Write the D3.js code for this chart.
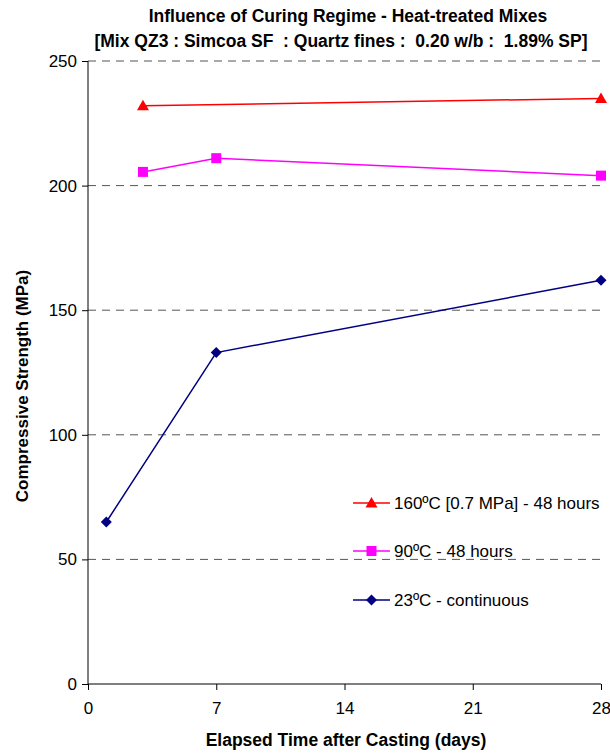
<!DOCTYPE html>
<html><head><meta charset="utf-8">
<script src="https://cdn.jsdelivr.net/npm/d3@7"></script>
<style>body{margin:0;background:#fff}svg{display:block;font-family:"Liberation Sans",Arial,sans-serif}</style>
</head><body>
<script>
const xTicks = [0, 7, 14, 21, 28];
const yTicks = [0, 50, 100, 150, 200, 250];
const seriesNames = ["160ºC [0.7 MPa] - 48 hours", "90ºC - 48 hours", "23ºC - continuous"];
const seriesColors = ["#ff0000", "#ff00ff", "#000080"];
const seriesShapes = ["triangle", "square", "diamond"];
const days160 = [3, 28];
const vals160 = [232, 235];
const days90 = [3, 7, 28];
const vals90 = [205.5, 211, 204];
const days23 = [1, 7, 28];
const vals23 = [65, 133, 162];

const W = 610, H = 753;
const m = {l: 88, r: 9, t: 61, b: 69};
const svg = d3.select("body").append("svg").attr("width", W).attr("height", H);
const x = d3.scaleLinear().domain([0, 28]).range([m.l, W - m.r]);
const y = d3.scaleLinear().domain([0, 250]).range([H - m.b, m.t]);

// title
svg.append("text").attr("x", 348).attr("y", 22).attr("text-anchor", "middle")
  .attr("font-size", 17.5).attr("font-weight", "bold").text("Influence of Curing Regime - Heat-treated Mixes");
svg.append("text").attr("x", 341).attr("y", 47).attr("text-anchor", "middle")
  .attr("font-size", 17.5).attr("font-weight", "bold").attr("xml:space", "preserve")
  .text("[Mix QZ3 : Simcoa SF  : Quartz fines :  0.20 w/b :  1.89% SP]");

// grid
svg.append("g").selectAll("line").data(yTicks.filter(d => d > 0)).join("line")
  .attr("x1", x(0)).attr("x2", x(28)).attr("y1", d => y(d)).attr("y2", d => y(d))
  .attr("stroke", "#555").attr("stroke-dasharray", "8,6").attr("stroke-width", 1);

// axes
const yAxis = svg.append("g").attr("transform", `translate(${x(0)},0)`)
  .call(d3.axisLeft(y).tickValues(yTicks).tickSize(6).tickPadding(5));
const xAxis = svg.append("g").attr("transform", `translate(0,${y(0)})`)
  .call(d3.axisBottom(x).tickValues(xTicks).tickSize(6).tickPadding(12));
[yAxis, xAxis].forEach(a => {
  a.selectAll("path,line").attr("stroke", "#000");
  a.select(".domain").attr("d", a === yAxis ? `M0,${y(250)}V${y(0)}` : `M${x(0)},0H${x(28)}`);
  a.selectAll("text").attr("font-size", 17).attr("fill", "#000").attr("font-family", "Liberation Sans, Arial, sans-serif");
});

svg.append("text").attr("transform", `translate(28,386) rotate(-90)`)
  .attr("text-anchor", "middle").attr("font-size", 17).attr("font-weight", "bold")
  .text("Compressive Strength (MPa)");
svg.append("text").attr("x", 346).attr("y", 746).attr("text-anchor", "middle")
  .attr("font-size", 17.5).attr("font-weight", "bold").text("Elapsed Time after Casting (days)");

function marker(g, shape, color, cx, cy) {
  if (shape === "triangle") g.append("path").attr("d", `M${cx},${cy-6}L${cx+6},${cy+4.5}L${cx-6},${cy+4.5}Z`).attr("fill", color);
  else if (shape === "square") g.append("rect").attr("x", cx-5).attr("y", cy-5).attr("width", 10).attr("height", 10).attr("fill", color);
  else g.append("path").attr("d", `M${cx},${cy-5.5}L${cx+5.5},${cy}L${cx},${cy+5.5}L${cx-5.5},${cy}Z`).attr("fill", color);
}

const data = [[days160, vals160], [days90, vals90], [days23, vals23]];
const line = d3.line().x(d => x(d[0])).y(d => y(d[1]));
data.forEach((s, i) => {
  const pts = s[0].map((d, j) => [d, s[1][j]]);
  const g = svg.append("g");
  g.append("path").attr("d", line(pts)).attr("fill", "none").attr("stroke", seriesColors[i]).attr("stroke-width", 1.5);
  pts.forEach(p => marker(g, seriesShapes[i], seriesColors[i], x(p[0]), y(p[1])));
});

// legend
const ly = [503, 551, 600];
seriesNames.forEach((n, i) => {
  const g = svg.append("g");
  g.append("line").attr("x1", 353).attr("x2", 390).attr("y1", ly[i]).attr("y2", ly[i])
    .attr("stroke", seriesColors[i]).attr("stroke-width", 1.5);
  marker(g, seriesShapes[i], seriesColors[i], 371.5, ly[i]);
  g.append("text").attr("x", 394).attr("y", ly[i] + 6).attr("font-size", 17).text(n);
});
</script>
</body></html>
